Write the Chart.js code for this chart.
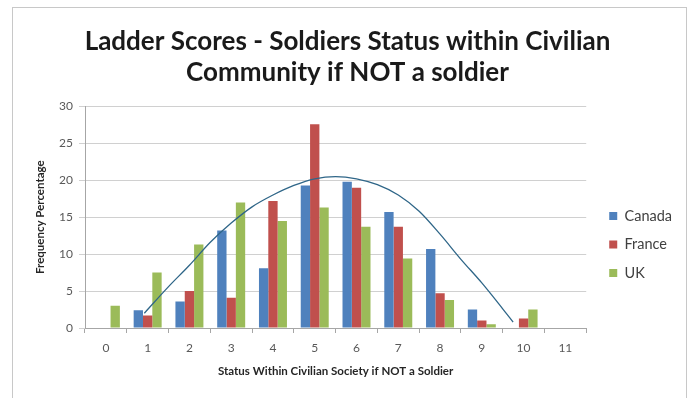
<!DOCTYPE html>
<html>
<head>
<meta charset="utf-8">
<script src="https://cdn.jsdelivr.net/npm/chart.js@4.4.1/dist/chart.umd.min.js"></script>
<style>
  html, body { margin: 0; padding: 0; background: #ffffff; }
  #wrap { position: relative; width: 692px; height: 398px; overflow: hidden; }
  #frame { position: absolute; left: 12px; top: 7px; width: 675px; height: 420px; border: 1px solid #c8c8c8; box-sizing: border-box; }
  canvas { position: absolute; left: 0; top: 0; }
</style>
</head>
<body>
<div id="wrap">
  <div id="frame"></div>
  <canvas id="c" width="692" height="398"></canvas>
  <canvas id="t" width="692" height="398"></canvas>
</div>
<script>
const categories = ["0","1","2","3","4","5","6","7","8","9","10","11"];
const canada = [0, 2.4, 3.6, 13.2, 8.1, 19.3, 19.8, 15.7, 10.7, 2.5, 0, 0];
const france = [0, 1.7, 5.0, 4.1, 17.2, 27.6, 19.0, 13.7, 4.7, 1.0, 1.3, 0];
const uk     = [3.0, 7.5, 11.3, 17.0, 14.5, 16.3, 13.7, 9.4, 3.8, 0.5, 2.5, 0];
const trendX = [0.92, 1.5, 2.0, 2.5, 3.0, 3.5, 4.0, 4.5, 5.0, 5.5, 6.0, 6.5, 7.0, 7.5, 8.0, 8.5, 9.0, 9.5, 9.75];
const trendY = [2.0, 5.6, 8.5, 11.6, 14.2, 16.4, 18.0, 19.3, 20.2, 20.5, 20.2, 19.4, 18.0, 15.8, 12.7, 9.3, 6.1, 2.6, 0.8];
const yTicks = [0, 5, 10, 15, 20, 25, 30];

const FONT = "Lato, 'Open Sans', sans-serif";
const barOpts = { categoryPercentage: 0.67, barPercentage: 1.0 };

const chart = new Chart(document.getElementById('c'), {
  type: 'bar',
  data: {
    labels: categories,
    datasets: [
      Object.assign({ label: 'Canada', data: canada, backgroundColor: '#4F81BD' }, barOpts),
      Object.assign({ label: 'France', data: france, backgroundColor: '#C0504D' }, barOpts),
      Object.assign({ label: 'UK', data: uk, backgroundColor: '#9BBB59' }, barOpts)
    ]
  },
  options: {
    responsive: false,
    animation: false,
    devicePixelRatio: 1,
    layout: { padding: { left: 13, right: 10, top: 9, bottom: 0 } },
    plugins: {
      title: {
        display: true,
        text: ['Ladder Scores - Soldiers Status within Civilian', 'Community if NOT a soldier'],
        color: '#1a1a1a',
        font: { family: FONT, size: 26, weight: 'bold', lineHeight: 1.2 },
        padding: { top: 17, bottom: 18 }
      },
      legend: {
        position: 'right',
        title: { display: true, text: ' ', font: { size: 10, lineHeight: 1 }, padding: { top: 72, bottom: 0 } },
        labels: {
          boxWidth: 8, boxHeight: 8, padding: 14,
          color: '#404040',
          font: { family: FONT, size: 14.5 }
        }
      },
      tooltip: { enabled: false }
    },
    scales: {
      x: {
        type: 'category',
        offset: true,
        afterFit: (s) => { s.height = 70; },
        grid: { display: true, drawOnChartArea: false, drawTicks: true, tickLength: 5, color: '#a6a6a6', offset: true },
        border: { color: '#a6a6a6' },
        ticks: { color: '#595959', font: { family: FONT, size: 12 }, padding: 8 },
        title: { display: true, text: 'Status Within Civilian Society if NOT a Soldier', color: '#262626',
                 font: { family: FONT, size: 11.5, weight: 'bold' }, padding: { top: 0, bottom: 20 } }
      },
      y: {
        min: 0, max: 30,
        afterFit: (s) => { s.width = 72; },
        afterBuildTicks: (axis) => { axis.ticks = yTicks.map(v => ({ value: v })); },
        grid: { color: '#d0d0d0', tickLength: 6, drawTicks: true },
        border: { color: '#a6a6a6' },
        ticks: { color: '#595959', font: { family: FONT, size: 12 }, padding: 6 },
        title: { display: true, text: 'Frequency Percentage', color: '#262626',
                 font: { family: FONT, size: 11.5, weight: 'bold' }, padding: { top: 20, bottom: 0 } }
      },
      gap: {
        type: 'linear', position: 'right', display: true, offset: false,
        afterFit: (s) => { s.width = 9; },
        grid: { display: false, drawTicks: false },
        border: { display: false },
        ticks: { display: false }
      }
    }
  }
});

// Trend line overlay: same plot area, same value ranges as the bar chart's axes
const ca = chart.chartArea;
new Chart(document.getElementById('t'), {
  type: 'line',
  data: {
    datasets: [{
      label: 'trend',
      data: trendX.map((x, i) => ({ x: x, y: trendY[i] })),
      borderColor: '#2F6688', borderWidth: 1.3, pointRadius: 0,
      cubicInterpolationMode: 'monotone', fill: false
    }]
  },
  options: {
    responsive: false,
    animation: false,
    devicePixelRatio: 1,
    layout: { padding: { left: ca.left, top: ca.top, right: 692 - ca.right, bottom: 398 - ca.bottom } },
    plugins: { legend: { display: false }, title: { display: false }, tooltip: { enabled: false } },
    scales: {
      x: { type: 'linear', display: false, offset: false, min: -0.5, max: 11.5 },
      y: { type: 'linear', display: false, min: 0, max: 30 }
    }
  }
});
</script>
</body>
</html>
